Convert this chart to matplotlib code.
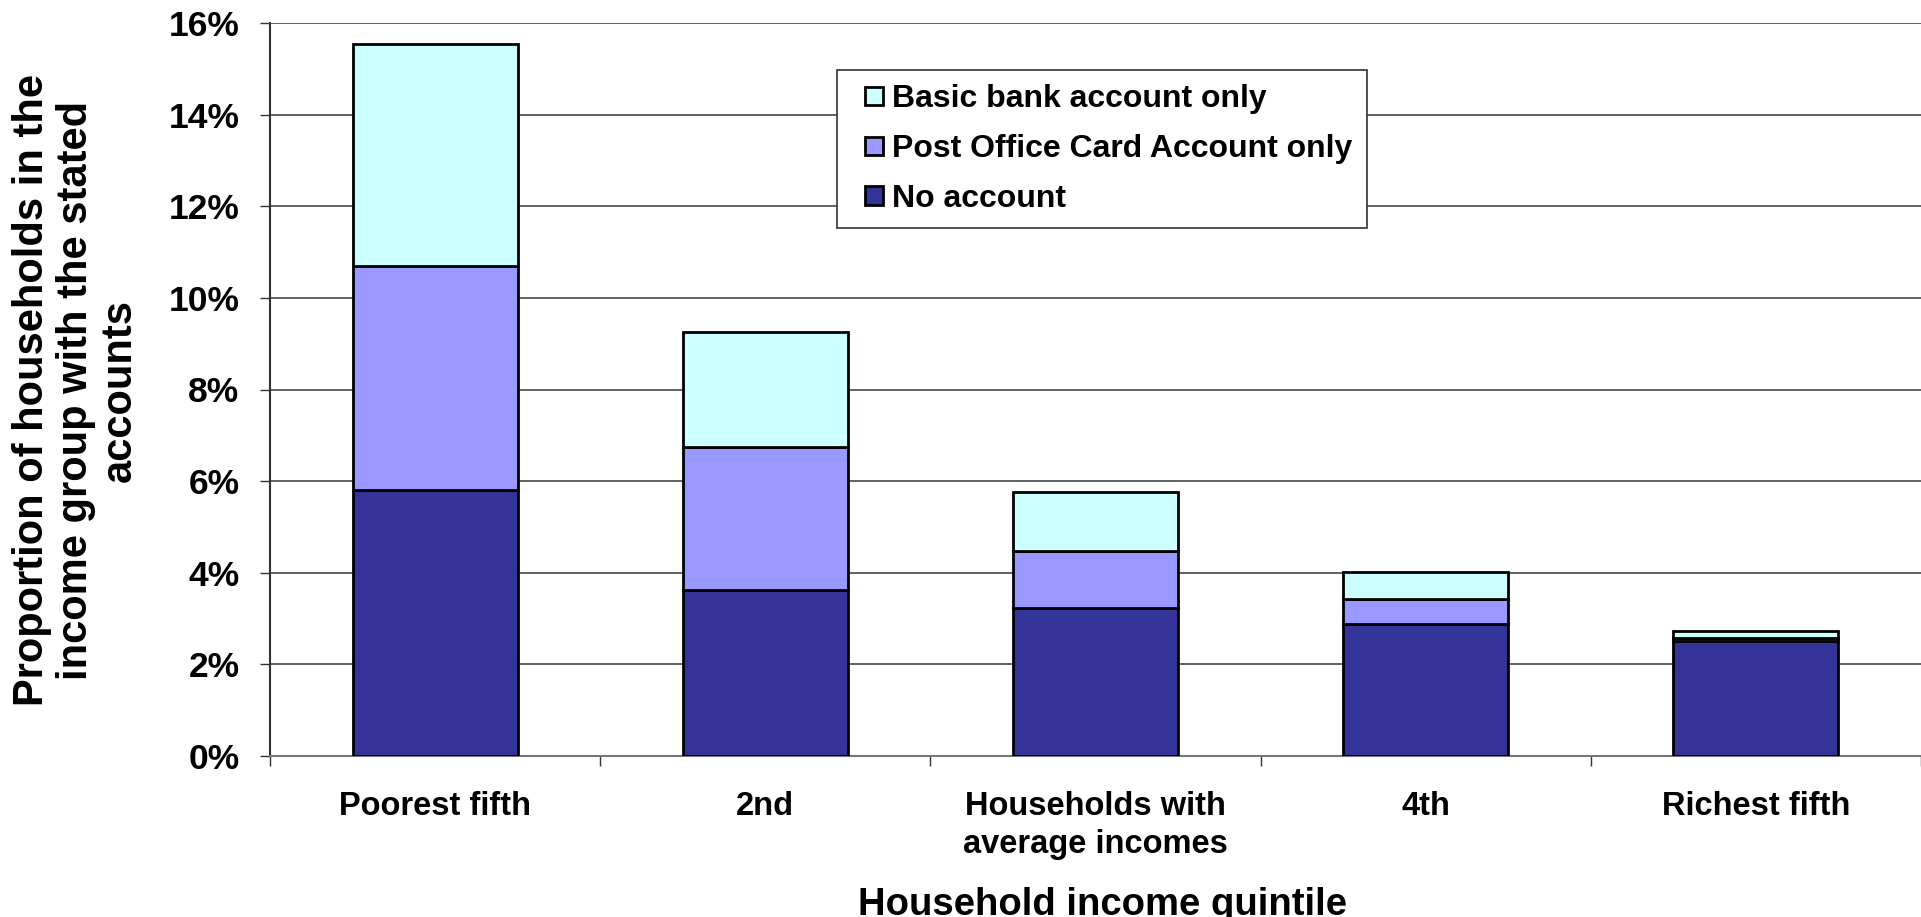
import numpy as np
import matplotlib
matplotlib.use("Agg")
from matplotlib import pyplot as plt
from matplotlib.ticker import FuncFormatter, FixedLocator
from matplotlib.patches import Rectangle
from matplotlib.legend_handler import HandlerPatch

# data (percent of households)
categories = ["Poorest fifth", "2nd", "Households with\naverage incomes", "4th", "Richest fifth"]
no_account = [5.8, 3.62, 3.24, 2.89, 2.5]
poca_only = [4.89, 3.13, 1.24, 0.53, 0.07]
basic_only = [4.85, 2.5, 1.28, 0.59, 0.16]

series_names = ["No account", "Post Office Card Account only", "Basic bank account only"]
colors = ["#333399", "#9999FF", "#CCFFFF"]

fam = ["Liberation Sans", "DejaVu Sans"]
plt.rcParams['font.family'] = fam
plt.rcParams['font.weight'] = 'bold'

fig = plt.figure(figsize=(19.21, 9.17), dpi=100)
ax = fig.add_axes([270/1921, 1-756/917, 1-270/1921, (756-23)/917])

x = np.arange(len(categories))
bottom = np.zeros(len(categories))
handles = []
for vals, name, c in zip([no_account, poca_only, basic_only], series_names, colors):
    b = ax.bar(x, vals, 0.5, bottom=bottom, color=c, edgecolor="black",
               linewidth=2, label=name, zorder=3)
    handles.append(b.patches[0])
    bottom = bottom + np.array(vals)

ax.set_ylim(0, 16)
ax.set_xlim(-0.5, len(categories) - 0.5)
ax.set_yticks(np.arange(0, 17, 2))
ax.yaxis.set_major_formatter(FuncFormatter(lambda v, p: "%d%%" % v))
ax.grid(axis="y", color="#555555", linewidth=1.3, zorder=0)

ax.set_xticks(x)
ax.set_xticklabels(categories, fontsize=23.5, fontweight="bold",
                   linespacing=1.32, va="top")
ax.xaxis.set_minor_locator(FixedLocator(np.arange(-0.5, len(categories), 1)))
ax.tick_params(axis="x", which="major", length=0, pad=25)
ax.tick_params(axis="x", which="minor", length=7, width=1, color="#333333", direction="out")
ax.tick_params(axis="y", length=7, width=1, color="#333333", pad=15, labelsize=25.5)

for s in ["top", "right"]:
    ax.spines[s].set_visible(False)
ax.spines["left"].set_color("#333333")
ax.spines["left"].set_linewidth(1.5)
ax.spines["bottom"].set_color("#777777")
ax.spines["bottom"].set_linewidth(1.5)

fig.text(76/1921, 1-390/917,
         "Proportion of households in the\nincome group with the stated\naccounts",
         rotation=90, ha="center", va="center", fontsize=30, fontweight="bold",
         linespacing=1.12)
fig.text(1102/1921, 1-887/917, "Household income quintile", ha="center", va="top",
         fontsize=27.5, fontweight="bold")


# small square swatch sitting at the right end of the handle area
def square(legend, orig_handle, xdescent, ydescent, width, height, fontsize):
    s = 0.58 * fontsize
    return Rectangle((-xdescent + width - s, -ydescent + (height - s) / 2), s, s)


leg = ax.legend(handles[::-1], series_names[::-1], loc="upper left",
                bbox_to_anchor=((837-270)/(1921-270), 1-(70-23)/(756-23)),
                frameon=True, fancybox=False, edgecolor="#333333", framealpha=1,
                prop={"weight": "bold", "size": 23},
                handler_map={Rectangle: HandlerPatch(patch_func=square)},
                handlelength=1.0, handleheight=0.6, handletextpad=0.28,
                labelspacing=0.62, borderpad=0.45, borderaxespad=0)
leg.get_frame().set_linewidth(1.2)
leg.set_zorder(5)

fig.savefig("out.png", dpi=100)
